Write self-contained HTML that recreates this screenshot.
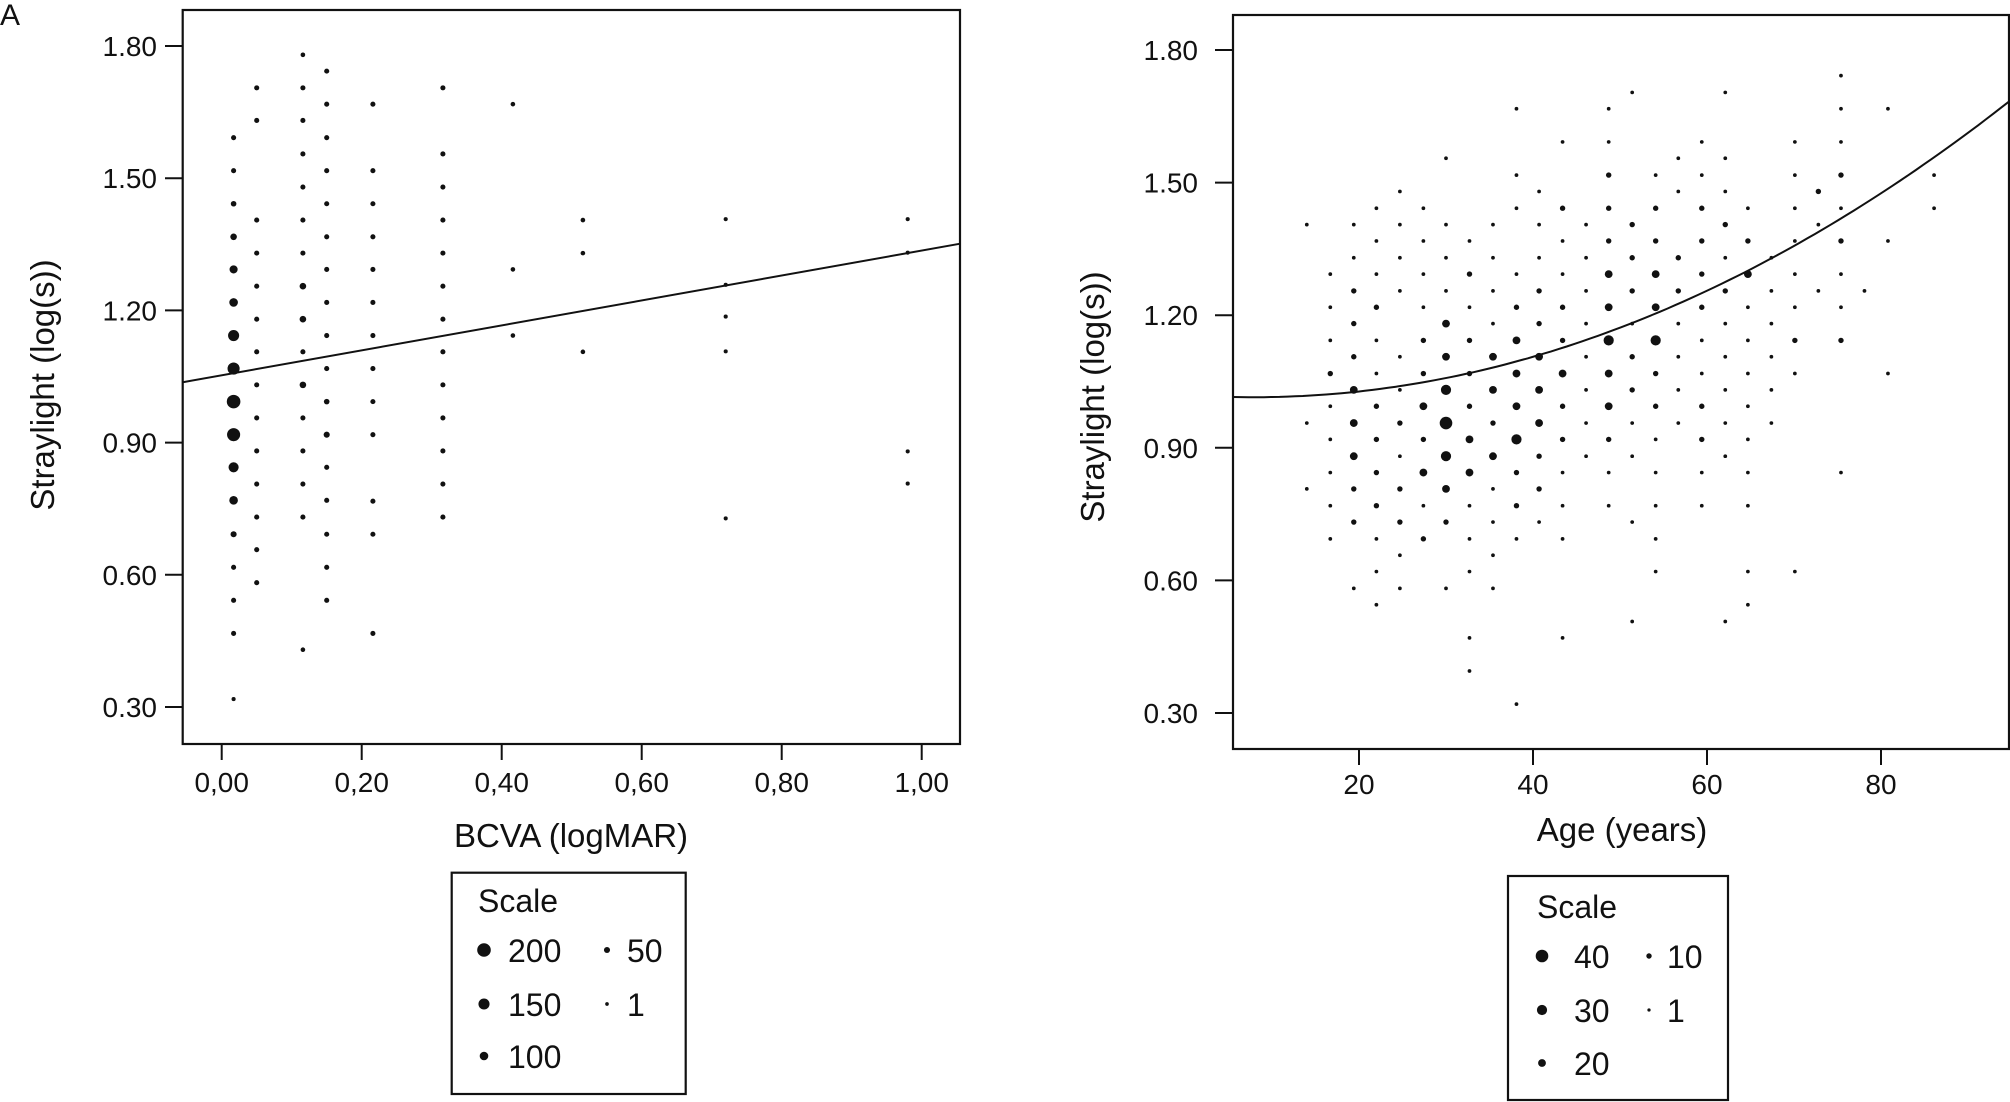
<!DOCTYPE html>
<html><head><meta charset="utf-8"><style>
html,body{margin:0;padding:0;background:#fff;}
svg{display:block;font-family:"Liberation Sans",Arial,sans-serif;}
</style></head><body>
<svg id="fig" width="2010" height="1102" viewBox="0 0 2010 1102">
<rect x="0" y="0" width="2010" height="1102" fill="#fff"/>
<text x="0" y="25" font-size="30" fill="#111">A</text>
<g id="left"></g>
<g id="right"></g>
</svg>
<script>
// ---------- Left chart data ----------
const bcvaCols = [0.017, 0.05, 0.116, 0.15, 0.216, 0.316, 0.416, 0.516, 0.72, 0.98];
const bcvaStray = [
 [1.592,1.517,1.442,1.367,1.293,1.218,1.143,1.068,0.993,0.918,0.844,0.769,0.692,0.617,0.542,0.467,0.318],
 [1.705,1.631,1.405,1.330,1.255,1.180,1.106,1.031,0.956,0.881,0.806,0.731,0.657,0.582],
 [1.780,1.705,1.631,1.555,1.480,1.405,1.330,1.255,1.180,1.106,1.031,0.956,0.881,0.806,0.731,0.430],
 [1.743,1.668,1.592,1.517,1.442,1.367,1.293,1.218,1.143,1.068,0.993,0.918,0.844,0.769,0.692,0.617,0.542],
 [1.668,1.517,1.442,1.367,1.293,1.218,1.143,1.068,0.993,0.918,0.767,0.692,0.467],
 [1.705,1.555,1.480,1.405,1.330,1.255,1.180,1.106,1.031,0.956,0.881,0.806,0.731],
 [1.668,1.293,1.143],
 [1.405,1.330,1.106],
 [1.407,1.258,1.186,1.107,0.728],
 [1.407,1.331,0.880,0.807]
];
const bcvaCounts = [
 [30,30,40,60,90,100,150,170,200,190,130,100,50,30,30,30,10],
 [30,30,30,30,30,30,30,30,30,30,30,30,30,30],
 [20,30,30,30,30,30,30,60,60,30,60,30,30,30,30,20],
 [30,30,30,30,30,30,30,30,30,30,40,50,30,30,30,30,30],
 [30,30,30,30,30,30,30,30,30,30,30,30,30],
 [30,30,30,30,30,30,30,30,30,30,30,30,30],
 [20,20,20],
 [20,20,20],
 [10,10,10,10,10],
 [10,10,10,10]
];
const bcvaXTicks = [0, 0.2, 0.4, 0.6, 0.8, 1.0];
const bcvaXLabels = ["0,00","0,20","0,40","0,60","0,80","1,00"];
const strayTicks = [1.8, 1.5, 1.2, 0.9, 0.6, 0.3];
const strayLabels = ["1.80","1.50","1.20","0.90","0.60","0.30"];
const bcvaFit = [1.0528, 0.283]; // intercept, slope
const bcvaLegendVals = [200,150,100,50,1];

// ---------- Right chart data ----------
const ageCols = [14.0,16.7,19.4,22.0,24.7,27.4,30.0,32.7,35.4,38.1,40.7,43.4,46.1,48.7,51.4,54.1,56.7,59.4,62.1,64.7,67.4,70.1,72.8,75.4,78.1,80.8,86.1];
const ageStray = [
 [1.405,0.956,0.807],
 [1.293,1.218,1.143,1.068,0.994,0.919,0.844,0.769,0.694],
 [1.405,1.330,1.255,1.181,1.106,1.031,0.956,0.881,0.807,0.732,0.582],
 [1.442,1.368,1.293,1.218,1.143,1.068,0.994,0.919,0.844,0.769,0.694,0.620,0.545],
 [1.480,1.405,1.330,1.255,1.106,1.031,0.956,0.881,0.807,0.732,0.657,0.582],
 [1.442,1.368,1.293,1.218,1.143,1.068,0.994,0.919,0.844,0.769,0.694],
 [1.555,1.405,1.330,1.255,1.181,1.106,1.031,0.956,0.881,0.807,0.732,0.582],
 [1.368,1.293,1.218,1.143,1.068,0.994,0.919,0.844,0.769,0.694,0.620,0.470,0.395],
 [1.405,1.330,1.255,1.181,1.106,1.031,0.956,0.881,0.807,0.732,0.657,0.582],
 [1.667,1.517,1.442,1.293,1.218,1.143,1.068,0.994,0.919,0.844,0.769,0.694,0.320],
 [1.480,1.405,1.330,1.255,1.181,1.106,1.031,0.956,0.881,0.807,0.732],
 [1.592,1.442,1.368,1.293,1.218,1.143,1.068,0.994,0.919,0.844,0.769,0.694,0.470],
 [1.405,1.330,1.255,1.181,1.106,1.031,0.956,0.881],
 [1.667,1.592,1.517,1.442,1.368,1.293,1.218,1.143,1.068,0.994,0.919,0.844,0.769],
 [1.704,1.405,1.330,1.255,1.181,1.106,1.031,0.956,0.881,0.732,0.507],
 [1.517,1.442,1.368,1.293,1.218,1.143,1.068,0.994,0.919,0.844,0.769,0.694,0.620],
 [1.555,1.480,1.330,1.255,1.181,1.106,1.031,0.956],
 [1.592,1.517,1.442,1.368,1.293,1.218,1.143,1.068,0.994,0.919,0.844,0.769],
 [1.704,1.555,1.480,1.405,1.330,1.255,1.181,1.106,1.031,0.956,0.881,0.507],
 [1.442,1.368,1.293,1.218,1.143,1.068,0.994,0.919,0.844,0.769,0.620,0.545],
 [1.330,1.255,1.181,1.106,1.031,0.956],
 [1.592,1.517,1.442,1.368,1.293,1.218,1.143,1.068,0.620],
 [1.480,1.405,1.255],
 [1.742,1.667,1.592,1.517,1.442,1.368,1.293,1.218,1.143,0.844],
 [1.255],
 [1.667,1.368,1.068],
 [1.517,1.442]
];
const ageCounts = [
 [3,3,3],
 [3,3,3,10,3,3,3,3,3],
 [3,3,10,10,10,20,20,20,10,10,3],
 [3,3,3,10,3,3,10,10,10,10,3,3,3],
 [3,3,3,3,3,3,10,3,10,10,3,3],
 [3,3,3,3,10,10,20,10,20,3,10],
 [3,3,3,3,20,20,30,40,30,20,10,3],
 [3,10,3,10,10,10,20,20,3,3,3,3,3],
 [3,3,3,3,20,20,10,20,3,3,3,3],
 [3,3,3,3,10,20,20,20,30,10,10,3,3],
 [3,3,3,10,10,20,20,20,10,10,3],
 [3,10,3,3,10,10,20,10,10,3,3,3,3],
 [3,3,3,3,3,3,3,3],
 [3,3,10,10,10,20,20,30,20,20,10,3,3],
 [3,10,10,10,3,10,10,3,3,3,3],
 [3,10,10,20,20,30,10,10,3,3,3,3,3],
 [3,3,10,10,3,3,3,3],
 [3,3,10,10,10,10,3,3,10,10,3,3],
 [3,3,3,10,3,10,3,3,3,3,3,3],
 [3,10,20,3,3,3,3,3,3,3,3,3],
 [3,3,3,3,3,3],
 [3,3,3,3,3,3,10,3,3],
 [10,3,3],
 [3,3,3,10,3,10,3,3,10,3],
 [3],
 [3,3,3],
 [3,3]
];
const ageXTicks = [20,40,60,80];
const ageXLabels = ["20","40","60","80"];
const ageFit = [1.0200, -0.001402, 0.00008874]; // a + b*age + c*age^2
const ageLegendVals = [40,30,20,10,1];

const NS = "http://www.w3.org/2000/svg";
function mk(parent, tag, attrs){ const e=document.createElementNS(NS,tag); for(const k in attrs) e.setAttribute(k,attrs[k]); parent.appendChild(e); return e; }
function lin(d0,d1,r0,r1){ return v => r0 + (v-d0)*(r1-r0)/(d1-d0); }

// ---------- LEFT ----------
(function(){
 const g=document.getElementById('left');
 const L=182.7,R=960,T=10,B=744;
 const x=lin(0,0.2,221.7,361.7), y=lin(1.8,0.3,46,707);
 const r=n=>1.8+n*0.025;
 const frame=mk(g,'rect',{x:L,y:T,width:R-L,height:B-T,fill:'none',stroke:'#111','stroke-width':2.2});
 
 
 strayTicks.forEach((v,i)=>{
  const tk=mk(g,'line',{x1:165,x2:L,y1:y(v),y2:y(v),stroke:'#111','stroke-width':2});
  
  
  const t=mk(g,'text',{x:157,y:y(v)+10,'font-size':28,'text-anchor':'end',fill:'#111'});
  t.textContent=strayLabels[i];
  
  
 });
 bcvaXTicks.forEach((v,i)=>{
  const tk=mk(g,'line',{x1:x(v),x2:x(v),y1:B,y2:B+16,stroke:'#111','stroke-width':2});
  
  
  const t=mk(g,'text',{x:x(v),y:792,'font-size':28,'text-anchor':'middle',fill:'#111'});
  t.textContent=bcvaXLabels[i];
  
  
 });
 bcvaCols.forEach((bx,ci)=>{
  bcvaStray[ci].forEach((sv,pi)=>{
   const c=mk(g,'circle',{cx:x(bx),cy:y(sv),r:r(bcvaCounts[ci][pi]),fill:'#111'});
   
   
  });
 });
 const x0=-0.0557,x1=1.054;
 const ln=mk(g,'line',{x1:x(x0),y1:y(bcvaFit[0]+bcvaFit[1]*x0),x2:x(x1),y2:y(bcvaFit[0]+bcvaFit[1]*x1),stroke:'#111','stroke-width':2});
 
 
 const xt=mk(g,'text',{x:571,y:847,'font-size':33,'text-anchor':'middle',fill:'#111'});
 xt.textContent='BCVA (logMAR)';
 
 
 const yt=mk(g,'text',{x:0,y:0,'font-size':33,'text-anchor':'middle',fill:'#111',transform:'translate(54,385) rotate(-90)'});
 yt.textContent='Straylight (log(s))';
 
 
 const lg=mk(g,'g',{});
 
 
 mk(lg,'rect',{x:451.7,y:872.7,width:234,height:221.3,fill:'none',stroke:'#111','stroke-width':2.2});
 const st=mk(lg,'text',{x:478,y:912,'font-size':32,fill:'#111'}); st.textContent='Scale';
 const pos=[[484,508,962],[484,508,1016],[484,508,1068],[607,627,962],[607,627,1016]];
 bcvaLegendVals.forEach((v,i)=>{
  const p=pos[i];
  const c=mk(lg,'circle',{cx:p[0],cy:p[2]-12,r:r(v),fill:'#111'});
  
  
  const t=mk(lg,'text',{x:p[1],y:p[2],'font-size':32,fill:'#111'}); t.textContent=String(v);
 });
})();

// ---------- RIGHT ----------
(function(){
 const g=document.getElementById('right');
 const L=1233,R=2009,T=15,B=749;
 const x=lin(20,40,1359,1533), y=lin(1.8,0.3,50,713);
 const r=n=>1.5+n*0.12;
 const frame=mk(g,'rect',{x:L,y:T,width:R-L,height:B-T,fill:'none',stroke:'#111','stroke-width':2.2});
 
 
 strayTicks.forEach((v,i)=>{
  const tk=mk(g,'line',{x1:1215,x2:L,y1:y(v),y2:y(v),stroke:'#111','stroke-width':2});
  
  
  const t=mk(g,'text',{x:1198,y:y(v)+10,'font-size':28,'text-anchor':'end',fill:'#111'});
  t.textContent=strayLabels[i];
  
  
 });
 ageXTicks.forEach((v,i)=>{
  const tk=mk(g,'line',{x1:x(v),x2:x(v),y1:B,y2:B+16,stroke:'#111','stroke-width':2});
  
  
  const t=mk(g,'text',{x:x(v),y:794,'font-size':28,'text-anchor':'middle',fill:'#111'});
  t.textContent=ageXLabels[i];
  
  
 });
 ageCols.forEach((ax,ci)=>{
  ageStray[ci].forEach((sv,pi)=>{
   const c=mk(g,'circle',{cx:x(ax),cy:y(sv),r:r(ageCounts[ci][pi]),fill:'#111'});
   
   
  });
 });
 const a0=(L-1359)/8.7+20, a1=(R-1359)/8.7+20;
 let d='';
 for(let i=0;i<=100;i++){
  const a=a0+(a1-a0)*i/100;
  const v=ageFit[0]+ageFit[1]*a+ageFit[2]*a*a;
  d+=(i?'L':'M')+x(a).toFixed(1)+' '+y(v).toFixed(1);
 }
 const cv=mk(g,'path',{d:d,fill:'none',stroke:'#111','stroke-width':2});
 
 
 const xt=mk(g,'text',{x:1622,y:841,'font-size':33,'text-anchor':'middle',fill:'#111'});
 xt.textContent='Age (years)';
 
 
 const yt=mk(g,'text',{x:0,y:0,'font-size':33,'text-anchor':'middle',fill:'#111',transform:'translate(1104,397) rotate(-90)'});
 yt.textContent='Straylight (log(s))';
 
 
 const lg=mk(g,'g',{});
 
 
 mk(lg,'rect',{x:1508,y:876,width:220,height:224,fill:'none',stroke:'#111','stroke-width':2.2});
 const st=mk(lg,'text',{x:1537,y:918,'font-size':32,fill:'#111'}); st.textContent='Scale';
 const pos=[[1542,1574,968],[1542,1574,1022],[1542,1574,1075],[1649,1667,968],[1649,1667,1022]];
 ageLegendVals.forEach((v,i)=>{
  const p=pos[i];
  const c=mk(lg,'circle',{cx:p[0],cy:p[2]-12,r:r(v),fill:'#111'});
  
  
  const t=mk(lg,'text',{x:p[1],y:p[2],'font-size':32,fill:'#111'}); t.textContent=String(v);
 });
})();
</script>
</body></html>
